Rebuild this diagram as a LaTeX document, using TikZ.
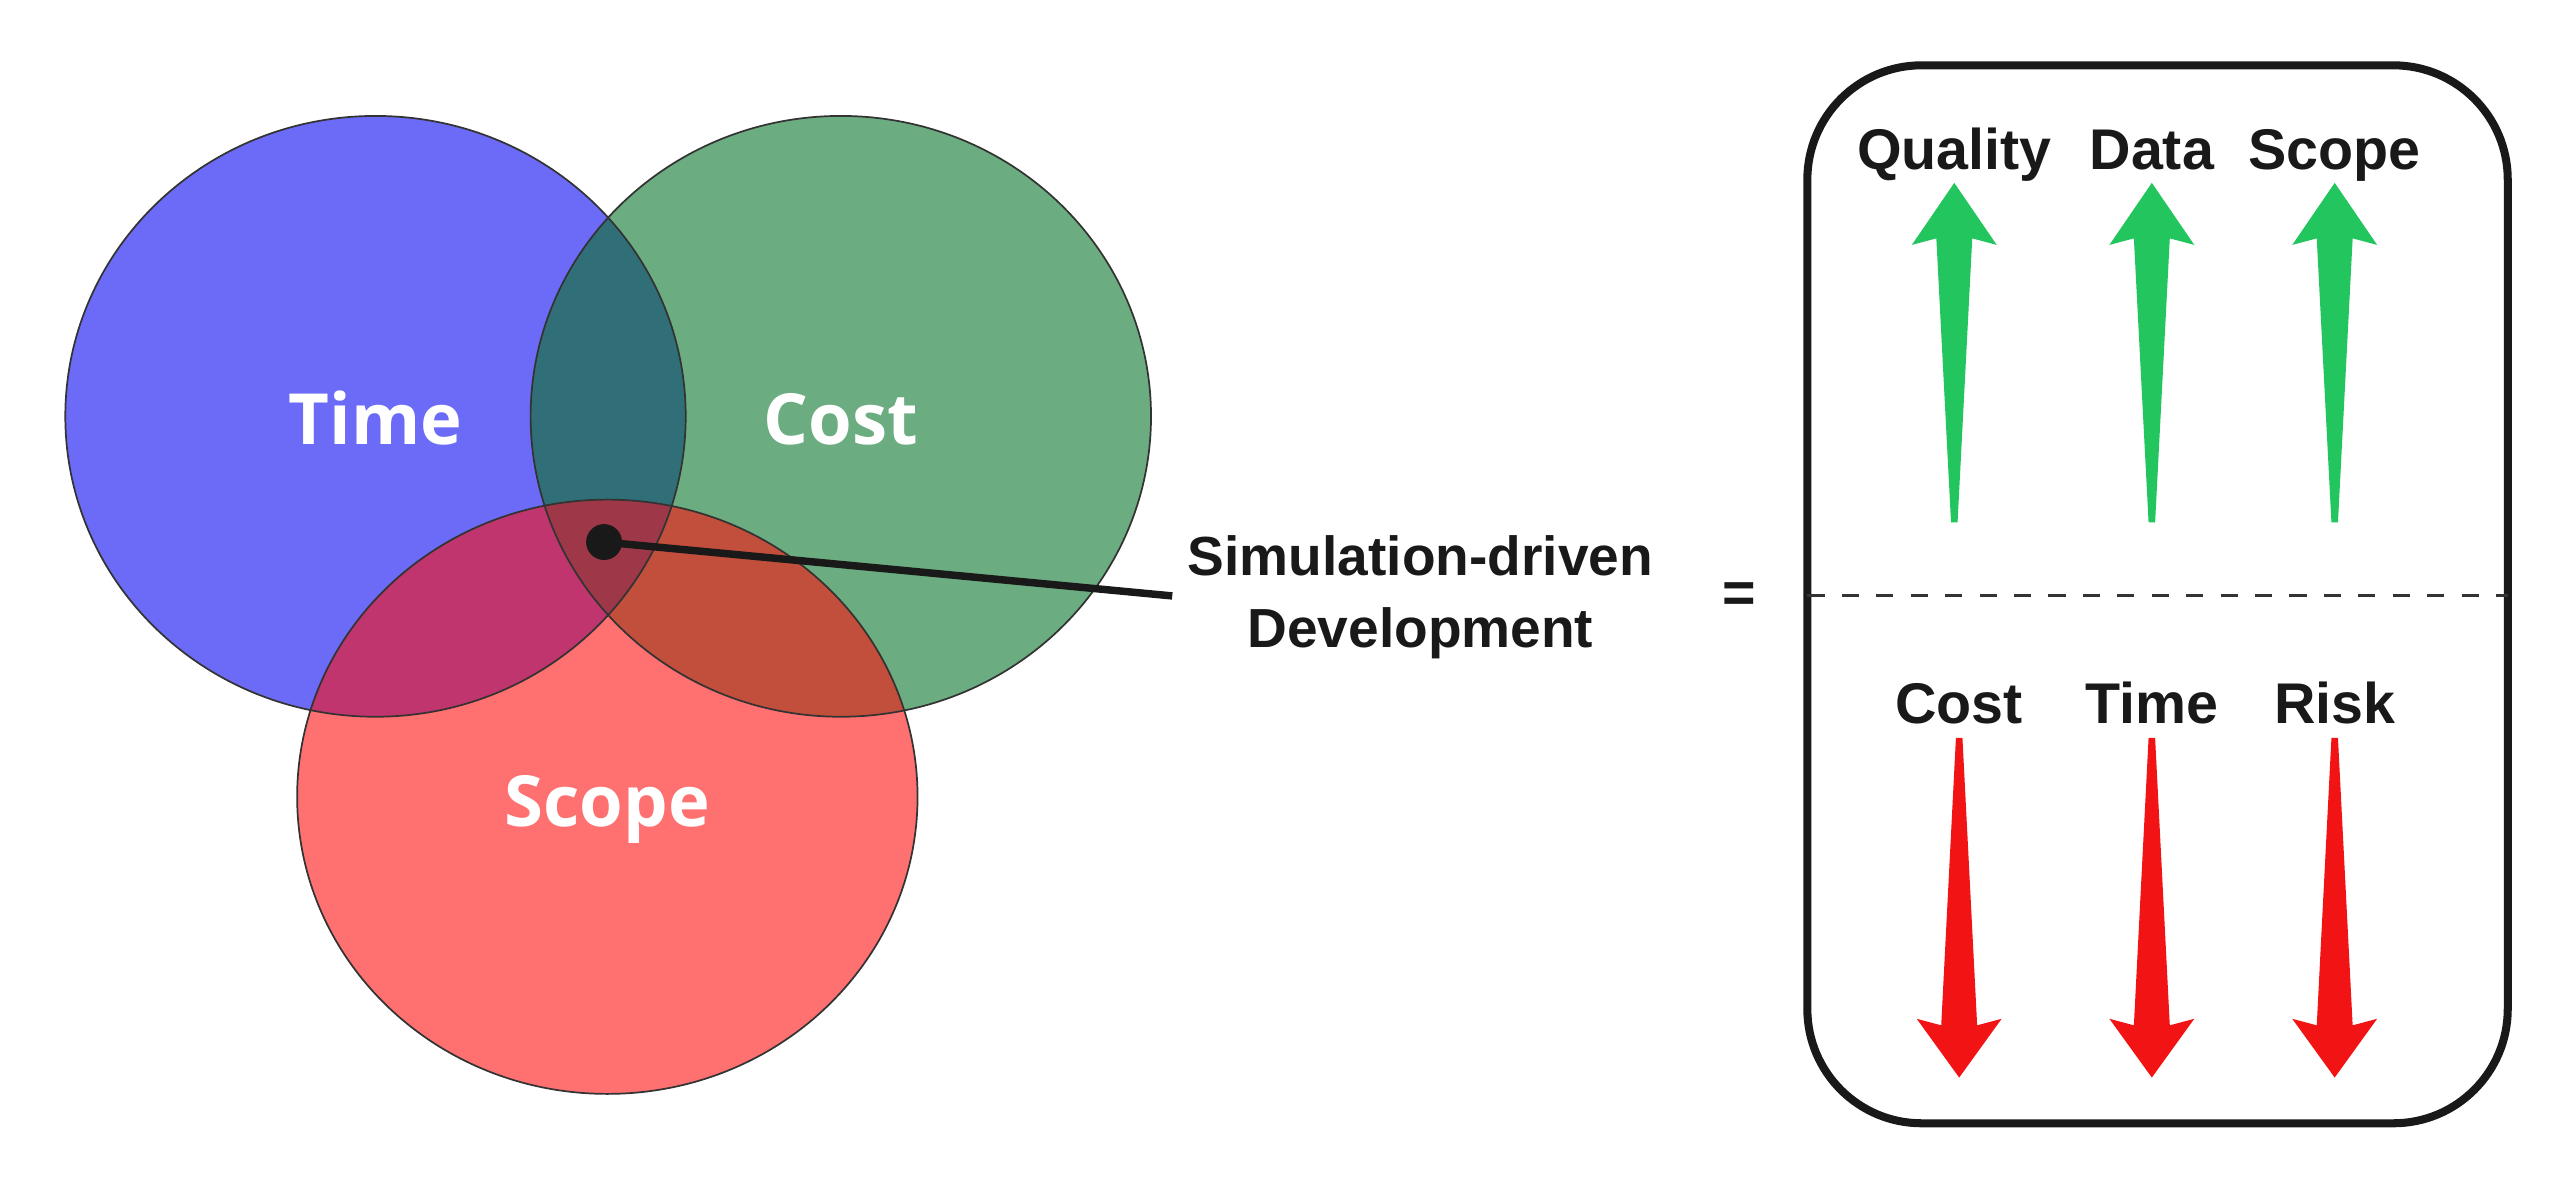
\documentclass[tikz,border=0pt]{standalone}
\usepackage{fontspec}
\setmainfont{Liberation Sans}
\newfontfamily\osans{Open Sans}
\definecolor{tblue}{HTML}{6B6BF7}
\definecolor{cgreen}{HTML}{6BAD80}
\definecolor{sred}{HTML}{FF7070}
\definecolor{tc}{HTML}{306F78}
\definecolor{ts}{HTML}{C0356E}
\definecolor{cs}{HTML}{C24E3C}
\definecolor{tcs}{HTML}{9E3848}
\definecolor{agreen}{HTML}{22C55E}
\definecolor{ared}{HTML}{F21414}
\begin{document}
\begin{tikzpicture}[x=0.1mm,y=-0.1mm,
  lab/.style={font=\osans\bfseries\fontsize{12.3}{15}\selectfont,text=white,anchor=base},
  rlab/.style={font=\bfseries\fontsize{10}{12}\selectfont,text=black!90,anchor=base},
  circ/.style={draw=black!80,line width=0.3pt}]
\useasboundingbox (0,0) rectangle (1568,729);
\def\T{(230,255) ellipse [x radius=190,y radius=184]}
\def\C{(515,255) ellipse [x radius=190,y radius=184]}
\def\S{(372,488) ellipse [x radius=190,y radius=182]}
\fill[tblue] \T; \fill[cgreen] \C; \fill[sred] \S;
\begin{scope}\clip \T; \fill[tc] \C; \fill[ts] \S; \end{scope}
\begin{scope}\clip \C; \fill[cs] \S; \end{scope}
\begin{scope}\clip \T; \clip \C; \fill[tcs] \S; \end{scope}
\draw[circ] \T; \draw[circ] \C; \draw[circ] \S;
\node[lab] (time) at (230,272) {Time};
\node[lab] (cost) at (515,272) {Cost};
\node[lab] (scope) at (372,506) {Scope};
\fill[black!90] (370,332) circle (11);
\coordinate (dot) at (370,332);
\coordinate (lend) at (718,365);
\draw[black!90,line width=1.3pt] (dot) -- (lend);
\node[align=center,text=black!90,font=\bfseries\fontsize{9.6}{12.5}\selectfont] (sdd) at (870,366) {Simulation-driven\\Development};
\node[rlab,anchor=center] (eq) at (1065,366) {=};
\draw[black!90,line width=1.4pt,rounded corners=7mm] (1107,40) rectangle (1536,688);
\coordinate (dl) at (1107,365); \coordinate (dr) at (1536,365);
\draw[black!80,dashed,line width=0.5pt] (dl) -- (dr);
\foreach \c/\t/\n in {1197/Quality/q,1318/Data/d,1430/Scope/s}{
  \node[rlab] (\n) at (\c,104) {\t};
  \fill[agreen] (\c,112) -- (\c+26,150) -- (\c+11,146) -- (\c+2,320) -- (\c-2,320) -- (\c-11,146) -- (\c-26,150) -- cycle;
}
\foreach \c/\t/\n in {1200/Cost/c,1318/Time/t,1430/Risk/r}{
  \node[rlab] (\n) at (\c,443) {\t};
  \fill[ared] (\c,660) -- (\c+26,624) -- (\c+11,628) -- (\c+2,452) -- (\c-2,452) -- (\c-11,628) -- (\c-26,624) -- cycle;
}
\end{tikzpicture}
\end{document}
